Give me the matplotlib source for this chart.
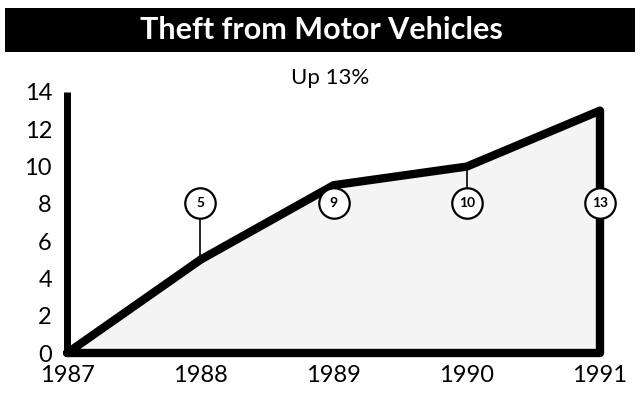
import matplotlib.pyplot as plt
from matplotlib.patches import Rectangle

# thefts, thousands
years = [1987, 1988, 1989, 1990, 1991]
thefts = [0, 5, 9, 10, 13]
labelled_years = [1988, 1989, 1990, 1991]
label_text = ['5', '9', '10', '13']
yticks = [0, 2, 4, 6, 8, 10, 12, 14]

plt.rcParams['font.family'] = ['Lato', 'DejaVu Sans']

fig = plt.figure(figsize=(6.4, 4.0), dpi=100)
fig.patches.append(Rectangle((0.008, 0.87), 0.984, 0.11, transform=fig.transFigure,
                             facecolor='black', edgecolor='none', zorder=0))
fig.text(0.503, 0.925, 'Theft from Motor Vehicles', color='white', fontsize=22,
         fontweight='bold', ha='center', va='center')
fig.text(0.516, 0.805, 'Up 13%', fontsize=16, ha='center', va='center')

ax = fig.add_axes([0.105, 0.1175, 0.8325, 0.6525])
ax.set_xlim(years[0], years[-1])
ax.set_ylim(0, 14)

# shaded area and heavy outline
ax.fill_between(years, thefts, 0, color='#f4f4f4', zorder=1)
ax.plot(years + [years[-1], years[0]], thefts + [0, 0], color='black', lw=6,
        solid_joinstyle='round', solid_capstyle='round', clip_on=False, zorder=3)
ax.plot([years[0], years[0]], [0, 14], color='black', lw=5, solid_capstyle='butt',
        clip_on=False, zorder=3)

# circled values with leader lines
circle_y = 8.05
r = 0.8
for yr, txt in zip(labelled_years, label_text):
    val = thefts[years.index(yr)]
    if val < circle_y - r:
        ax.plot([yr, yr], [val, circle_y - r], color='black', lw=1.2, zorder=2)
    elif val > circle_y + r:
        ax.plot([yr, yr], [circle_y + r, val], color='black', lw=1.2, zorder=2)
    ax.scatter([yr], [circle_y], s=480, facecolor='white', edgecolor='black',
               linewidth=1.6, zorder=4, clip_on=False)
    ax.text(yr, circle_y, txt, ha='center', va='center', fontsize=10,
            fontweight='bold', zorder=5)

for s in ax.spines.values():
    s.set_visible(False)
ax.set_xticks(years)
ax.set_xticklabels([str(y) for y in years])
ax.set_yticks(yticks)
ax.tick_params(length=0, labelsize=17)
ax.tick_params(axis='y', pad=11)
ax.tick_params(axis='x', pad=9)

fig.savefig('out.png', dpi=100)
